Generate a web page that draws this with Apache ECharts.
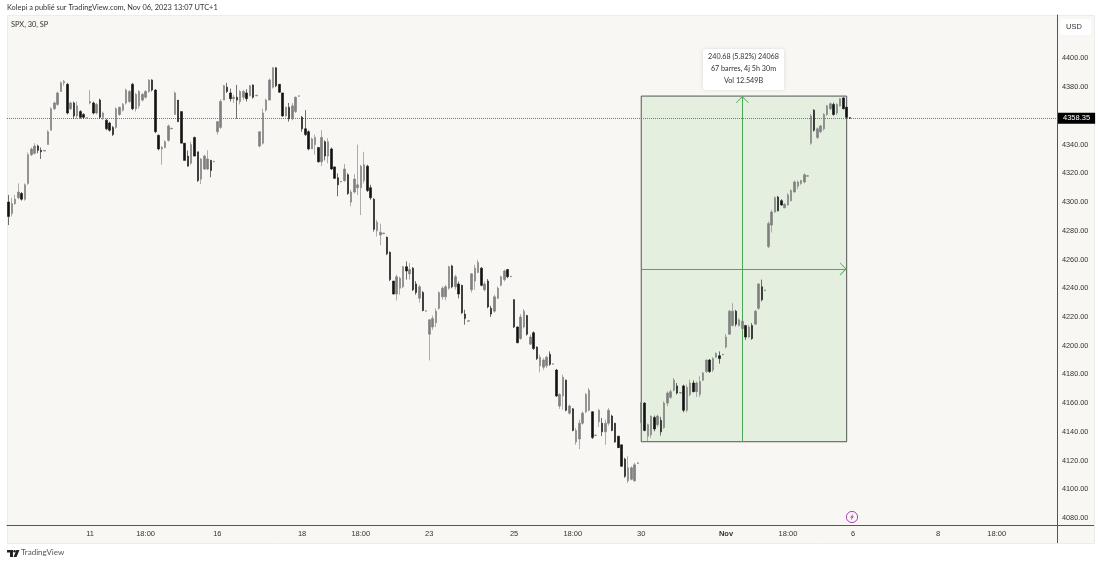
<!DOCTYPE html>
<html><head><meta charset="utf-8">
<style>html,body{margin:0;padding:0;background:#fff}#c{width:1100px;height:564px}</style>
<script src="https://cdn.jsdelivr.net/npm/echarts@6/dist/echarts.min.js"></script>
</head><body><div id="c"></div>
<script>
// each bar: [open, close, low, high]
const oct09 = [[4300,4290,4284,4305],[4292,4299,4290,4303],[4299,4302,4298,4305],[4303,4307,4302,4313],[4306,4302,4301,4307],[4302,4312,4301,4313],[4313,4333,4312,4334.5],[4333,4337,4332,4338],[4334,4339,4333,4341],[4339,4336,4334,4340],[4336,4335,4330,4338],[4335.5,4336,4335.5,4336]];
const oct10 = [[4340,4349,4340,4350],[4350,4365,4350,4366],[4365,4369,4364,4370],[4368,4376,4367,4377],[4377,4383,4377,4384],[4383,4384,4381,4385],[4382,4362,4361,4383],[4365,4369,4364,4370],[4369,4360,4358,4370],[4360,4367,4358,4370],[4363,4359,4358,4364],[4361,4359,4358,4362],[4358.5,4358.8,4358.4,4358.9]];
const oct11 = [[4369,4370,4368,4378],[4369,4362,4361,4370],[4362,4368,4361,4369],[4371,4359,4358,4372],[4359,4362,4357,4363],[4357,4351,4350,4358],[4355,4350,4349,4356],[4352,4347,4346,4353],[4352,4365,4351,4366],[4361,4366,4360,4366.5],[4364,4368,4363,4369],[4369,4378,4368,4379],[4370,4377,4369,4378]];
const oct12 = [[4382,4365,4364,4383],[4365,4375,4363,4376],[4367,4377,4365,4378],[4371,4375,4370,4376],[4373,4377,4372,4378],[4377,4385,4376,4385.5],[4385,4378,4377,4385.5],[4378,4349,4348,4378.6],[4346.5,4337,4336,4347],[4337,4338,4326,4339],[4338,4342,4337.5,4343],[4343,4353,4342,4354],[4351,4351.4,4350.8,4351.6]];
const oct13 = [[4361,4376,4360.7,4377],[4371,4356,4356,4371],[4363,4341,4341,4363],[4341,4329,4329,4341],[4332,4325,4324.8,4336],[4327,4340,4326,4342],[4345,4332,4332,4345.6],[4335,4315,4314,4335],[4316,4330,4312.5,4330.6],[4323,4332,4322.4,4333],[4323,4330,4322.4,4336],[4329,4322,4317.3,4329.4],[4328,4328.4,4327.8,4328.6]];
const oct16 = [[4349,4356,4347,4356.5],[4352,4370,4351,4371.6],[4371,4381,4371,4381.6],[4380,4377,4376,4383],[4376,4372,4370,4379],[4372,4373,4369,4374.6],[4373,4371,4358,4381.6],[4370,4377,4368,4378],[4373,4377,4371,4378],[4376,4372,4370,4378.6],[4374,4381,4373.5,4381.6],[4381.5,4373,4372,4382],[4374,4374.4,4373.8,4374.6]];
const oct17 = [[4339,4349,4338,4349],[4341,4362,4340,4365],[4364,4371,4363,4372],[4371,4385,4371,4386],[4380,4393.5,4379,4394],[4393.5,4381,4380,4394],[4382,4376.5,4376,4382],[4376,4360,4359.5,4376],[4360,4366,4359.5,4366.5],[4366,4358,4356,4369],[4358,4367,4357,4369],[4363,4373,4362,4373.5],[4373.6,4374,4373.5,4374.2]];
const oct18 = [[4359,4351,4349,4360],[4351,4347,4346,4364],[4349,4337,4336,4350],[4337,4344,4337,4345],[4340,4345,4333,4347],[4338,4328,4327.5,4338],[4328,4345,4325,4350],[4342,4332,4329,4343],[4332,4342,4327,4344.5],[4337,4323,4322.4,4338],[4324.5,4316.5,4316,4324.8],[4317,4312,4304,4320],[4314,4314.4,4313.8,4314.6]];
const oct19 = [[4315,4323,4314,4326.6],[4319,4306,4305,4320],[4300,4307,4297,4308.5],[4307,4316,4306,4319.4],[4310,4312,4305,4340],[4310,4325,4291,4326],[4315,4326,4313,4335],[4325,4308,4307,4326],[4310,4303,4301.6,4312],[4302,4281,4279.5,4302.7],[4280,4286,4276,4287.6],[4277,4279,4270,4285],[4278,4278.4,4277.8,4278.6]];
const oct20 = [[4275.5,4264,4263,4276],[4265,4246,4245,4265.6],[4245,4236,4235.5,4245],[4236,4248,4231.5,4249.4],[4240,4247,4235.5,4248],[4241,4255,4240,4255.6],[4255,4252,4246,4258.7],[4250,4253,4246,4257.5],[4254,4239,4238,4254.7],[4243,4237,4235.5,4245],[4233,4241,4230,4242.4],[4237,4224.5,4224,4238],[4224,4224.4,4223.8,4224.6]];
const oct23 = [[4208,4218,4189.7,4218.5],[4213,4219,4211,4221],[4216,4224,4213,4226],[4226,4237,4225,4237.8],[4234,4240,4232,4241.3],[4234,4241,4231.5,4242.4],[4240,4255,4239,4255.6],[4255.5,4241,4240,4256.3],[4241,4248,4239,4249.4],[4243,4236,4233,4244.7],[4242,4223,4222,4242.4],[4222,4219,4214.6,4225],[4217,4217.4,4216.8,4217.6]];
const oct24 = [[4239,4250,4237,4250.5],[4245,4254,4239,4256.3],[4251,4258,4250.5,4259.8],[4254,4242,4241.3,4254.7],[4239,4243,4237.8,4244.7],[4245,4227,4226,4246.4],[4226,4222,4220,4227.8],[4224,4234,4223,4235.5],[4233,4240,4232.4,4241.3],[4242,4248,4241.3,4248.7],[4246,4252,4244.7,4253],[4253,4248,4247,4253.3],[4248,4248.4,4247.8,4248.6]];
const oct25 = [[4232,4213,4212.3,4232.4],[4213,4202,4201.8,4213.4],[4205,4220,4204,4222],[4213,4224,4212,4225.5],[4221,4208,4207,4221.5],[4201,4206,4200.7,4207.6],[4209,4198,4197,4210],[4199,4191,4190,4199.5],[4186,4192,4181.4,4193.7],[4185,4190,4183,4191.4],[4186,4192,4184.4,4193],[4194,4187,4186,4196],[4187,4187.4,4186.8,4187.6]];
const oct26 = [[4183,4165,4164.3,4183.8],[4158,4166,4156,4167],[4165,4178,4155.5,4179.8],[4176,4155,4154.3,4176.4],[4153,4158,4152,4159],[4156,4141,4140.4,4156.6],[4133,4141,4131,4142.7],[4135,4146,4128,4148.5],[4146,4153,4145,4154.3],[4154,4166,4153,4167],[4155,4169,4154.3,4170.6],[4154,4136,4135,4154.3],[4137.4,4137.8,4137.2,4138]];
const oct27 = [[4147,4155,4143.4,4156],[4146,4140,4137,4149.7],[4140,4146,4131,4148.5],[4146,4155,4144.3,4156.6],[4151,4141,4140.4,4152],[4146,4133,4132.3,4146.2],[4137,4129,4128.8,4137],[4131,4116,4115.6,4131],[4121,4109,4108,4122],[4106,4115,4104.4,4123],[4107,4115,4106.3,4116],[4106,4117,4105,4118.4],[4118,4118.4,4117.8,4118.6]];
const oct30 = [[4147,4160,4146,4160.6],[4160,4141,4140.4,4160.6],[4137,4145,4133.4,4145.7],[4138,4151,4135.8,4151.3],[4150,4142,4140.4,4151.3],[4145,4151,4143.4,4152],[4148,4140,4137.4,4150.4],[4143,4160,4142,4161.3],[4160,4167,4157.8,4168.2],[4164,4168,4163,4169.4],[4169,4176,4168.2,4177.5],[4172,4167,4166,4174],[4167,4167.4,4166.8,4167.6]];
const oct31 = [[4172,4155,4153.6,4172.9],[4155,4171,4153.6,4172.9],[4166,4174,4164.8,4176.4],[4174,4168,4167.5,4175.9],[4168,4174,4164.3,4175.2],[4166,4175,4164.3,4178.7],[4176,4181,4175.2,4181.7],[4182,4190,4181,4190.3],[4190,4182,4181,4190.7],[4183,4191,4181.5,4192],[4192,4194.5,4191.4,4195.4],[4193,4191,4187.5,4196],[4193.6,4194,4193.4,4194.2]];
const nov01 = [[4199,4206,4198,4208],[4208,4224,4207.6,4225],[4214,4224,4213.4,4229.6],[4224,4215,4213.4,4225],[4214,4218,4213.4,4219],[4212,4217,4211,4219],[4214,4206,4204,4214.5],[4206,4213,4205.3,4214.5],[4214,4205,4204,4215.7],[4215,4224,4214.5,4225],[4226,4243,4225,4243.5],[4241,4232,4230.8,4246],[4238.4,4238.8,4238.2,4239]];
const nov02 = [[4269,4285,4268,4286.5],[4284,4293,4278.8,4294.6],[4293,4303,4292.7,4303.9],[4303.5,4294,4293.4,4304.3],[4301,4298,4297.4,4302],[4296,4298.5,4295.7,4299.2],[4298,4305,4297.4,4306.2],[4301,4308,4300.4,4309],[4307,4314,4306.6,4315],[4311,4314,4309,4315],[4313,4315,4312,4315.5],[4314,4319,4313,4320],[4318,4318.4,4317.8,4318.6]];
const nov03 = [[4341,4360,4339.8,4361.4],[4364,4350,4349,4364.6],[4345,4351,4343.8,4352],[4349,4353,4348,4353.7],[4351,4361,4349.8,4361.9],[4361,4367,4360,4367.7],[4365,4368.5,4364,4369.3],[4368,4361,4360,4369.3],[4362,4368,4360.7,4368.8],[4367,4372,4366.5,4372.3],[4372.5,4365,4364.6,4373],[4366,4359,4358.4,4366.5],[4358.8,4358.35,4358.2,4359]];

const bars = [].concat(oct09,oct10,oct11,oct12,oct13,oct16,oct17,oct18,oct19,oct20,oct23,oct24,oct25,oct26,oct27,oct30,oct31,nov01,nov02,nov03);
const emptySlots = 63;           // bars of future space right of the last candle
const tickSlots  = [25,42,64,90,108,129,155,173,194,220,239,259,285,303];
const tickLabels = ['11','18:00','16','18','18:00','23','25','18:00','30','Nov','18:00','6','8','18:00'];
const priceTicks = [4080,4100,4120,4140,4160,4180,4200,4220,4240,4260,4280,4300,4320,4340,4360,4380,4400];
const lastPrice = 4358.35;
const measureTop = 4373.8, measureBottom = 4133.12, measureStart = 194, measureEnd = 257, measureMid = 225;
const measureLines = ['240.68 (5.82%) 24068','67 barres, 4j 5h 30m','Vol 12.549B'];

const total = bars.length + emptySlots;
const categories = Array.from({length: total}, (_, i) => 'b' + i);
const labelOf = {};
tickSlots.forEach((s, k) => { labelOf['b' + s] = tickLabels[k]; });

const PANE = '#f8f7f3', TXT = '#333333', GREEN = '#4caa55', FONT = '"Liberation Sans", Arial, sans-serif', UI = 'Lato, sans-serif';
// open chevron whose tip sits at the centre of its bounding box
const chevUp = 'path://M10 -10 L10.01 -10 L10 -10 Z M0 9.4 L10 0 L20 9.4 L19 10 L10 1.8 L1 10 Z';
const green = {color: GREEN, width: 1, type: 'solid'};

const chart = echarts.init(document.getElementById('c'), null, {renderer: 'canvas'});
chart.setOption({
  animation: false,
  backgroundColor: '#ffffff',
  grid: {left: 7, right: 43, top: 15, bottom: 39, containLabel: false},
  xAxis: {
    type: 'category', data: categories, boundaryGap: true,
    axisLine: {show: true, onZero: false, lineStyle: {color: '#555555', width: 1}},
    axisTick: {show: false}, splitLine: {show: false},
    axisLabel: {
      interval: (i, v) => v in labelOf, hideOverlap: false, margin: 5, color: TXT, fontSize: 7.5, fontFamily: FONT,
      formatter: v => labelOf[v] === 'Nov' ? '{b|Nov}' : (labelOf[v] || ''),
      rich: {b: {fontWeight: 'bold', fontSize: 7.5, color: TXT, fontFamily: FONT}}
    }
  },
  yAxis: {
    type: 'value', position: 'right', scale: true, min: 4075.13, max: 4430.26,
    axisLine: {show: true, lineStyle: {color: '#555555', width: 1}},
    axisTick: {show: false}, splitLine: {show: false},
    axisLabel: {customValues: priceTicks, margin: 5, color: TXT, fontSize: 7.3, fontFamily: FONT, formatter: v => v.toFixed(2)}
  },
  series: [{
    type: 'candlestick', data: bars, barWidth: 2, clip: false, z: 5,
    itemStyle: {color: '#808080', color0: '#111111', borderColor: '#7a7a7a', borderColor0: '#111111', borderWidth: 0.6},
    markArea: {
      silent: true, z: 1,
      itemStyle: {color: '#e4efe0', borderColor: '#555555', borderWidth: 1},
      data: [[{coord: [measureStart, measureTop]}, {coord: [measureEnd, measureBottom]}]]
    },
    markLine: {
      silent: true, z: 3, symbol: 'none', precision: 2,
      data: [
        [{coord: [measureMid, measureBottom], symbol: 'none', lineStyle: green, label: {show: false}},
         {coord: [measureMid, measureTop], symbol: chevUp, symbolSize: [13, 14], lineStyle: green, label: {show: false}}],
        [{coord: [measureStart, (measureTop + measureBottom) / 2], symbol: 'none', lineStyle: green, label: {show: false}},
         {coord: [measureEnd, (measureTop + measureBottom) / 2], symbol: chevUp, symbolSize: [13, 14], lineStyle: green, label: {show: false}}],
        {yAxis: lastPrice, symbol: 'none', lineStyle: {color: '#777777', width: 1, type: [1, 1]},
         label: {show: true, position: 'end', distance: 1, formatter: lastPrice.toFixed(2), backgroundColor: '#000000', color: '#ffffff', fontSize: 7.5, fontFamily: FONT, padding: [2, 5, 1, 5]}}
      ]
    }
  }],
  graphic: [
    {type: 'rect', z: -10, shape: {x: 7.5, y: 15.5, width: 1087, height: 528}, style: {fill: PANE, stroke: '#ececec', lineWidth: 1}},
    {type: 'line', z: 20, shape: {x1: 1057.5, y1: 15, x2: 1057.5, y2: 543}, style: {stroke: '#555555', lineWidth: 1}},
    {type: 'line', z: 20, shape: {x1: 7, y1: 525.5, x2: 1094, y2: 525.5}, style: {stroke: '#555555', lineWidth: 1}},
    {type: 'text', z: 20, style: {x: 7, y: 4, text: 'Kolepi a publié sur TradingView.com, Nov 06, 2023 13:07 UTC+1', fill: '#333', font: '7.4px ' + UI}},
    {type: 'text', z: 20, style: {x: 11, y: 21, text: 'SPX, 30, SP', fill: '#333', font: '7.4px ' + UI}},
    {type: 'rect', z: 20, shape: {x: 1060, y: 19, width: 31, height: 16, r: 3}, style: {fill: '#ffffff'}},
    {type: 'text', z: 21, style: {x: 1066, y: 23, text: 'USD', fill: '#333', font: '7.5px ' + FONT}},
    // measure readout
    {type: 'rect', z: 30, shape: {x: 703, y: 49, width: 81, height: 41, r: 2}, style: {fill: '#ffffff', shadowBlur: 4, shadowColor: 'rgba(0,0,0,0.12)'}},
    ...measureLines.map((t, k) => ({type: 'text', z: 31, style: {x: 743.5, y: 53 + k * 12.3, text: t, textAlign: 'center', fill: '#333', font: '7.2px ' + UI}})),
    // earnings-style icon
    {type: 'circle', z: 20, shape: {cx: 852, cy: 517, r: 5.6}, style: {fill: 'transparent', stroke: '#ab47bc', lineWidth: 1}},
    {type: 'polygon', z: 20, shape: {points: [[853.5,513.5],[850,517.6],[851.8,517.6],[850.6,520.6],[854,516.4],[852.2,516.4]]}, style: {fill: '#ab47bc'}},
    // TradingView logo and name
    {type: 'polygon', z: 20, shape: {points: [[7,550],[13,550],[13,557],[10,557],[10,552.6],[7,552.6]]}, style: {fill: '#222'}},
    {type: 'circle', z: 20, shape: {cx: 14.6, cy: 551.2, r: 1.2}, style: {fill: '#222'}},
    {type: 'polygon', z: 20, shape: {points: [[16.4,550],[19.4,550],[16.6,557],[13.6,557]]}, style: {fill: '#222'}},
    {type: 'text', z: 20, style: {x: 21, y: 548, text: 'TradingView', fill: '#555', font: '8px ' + UI}}
  ]
});
</script></body></html>
